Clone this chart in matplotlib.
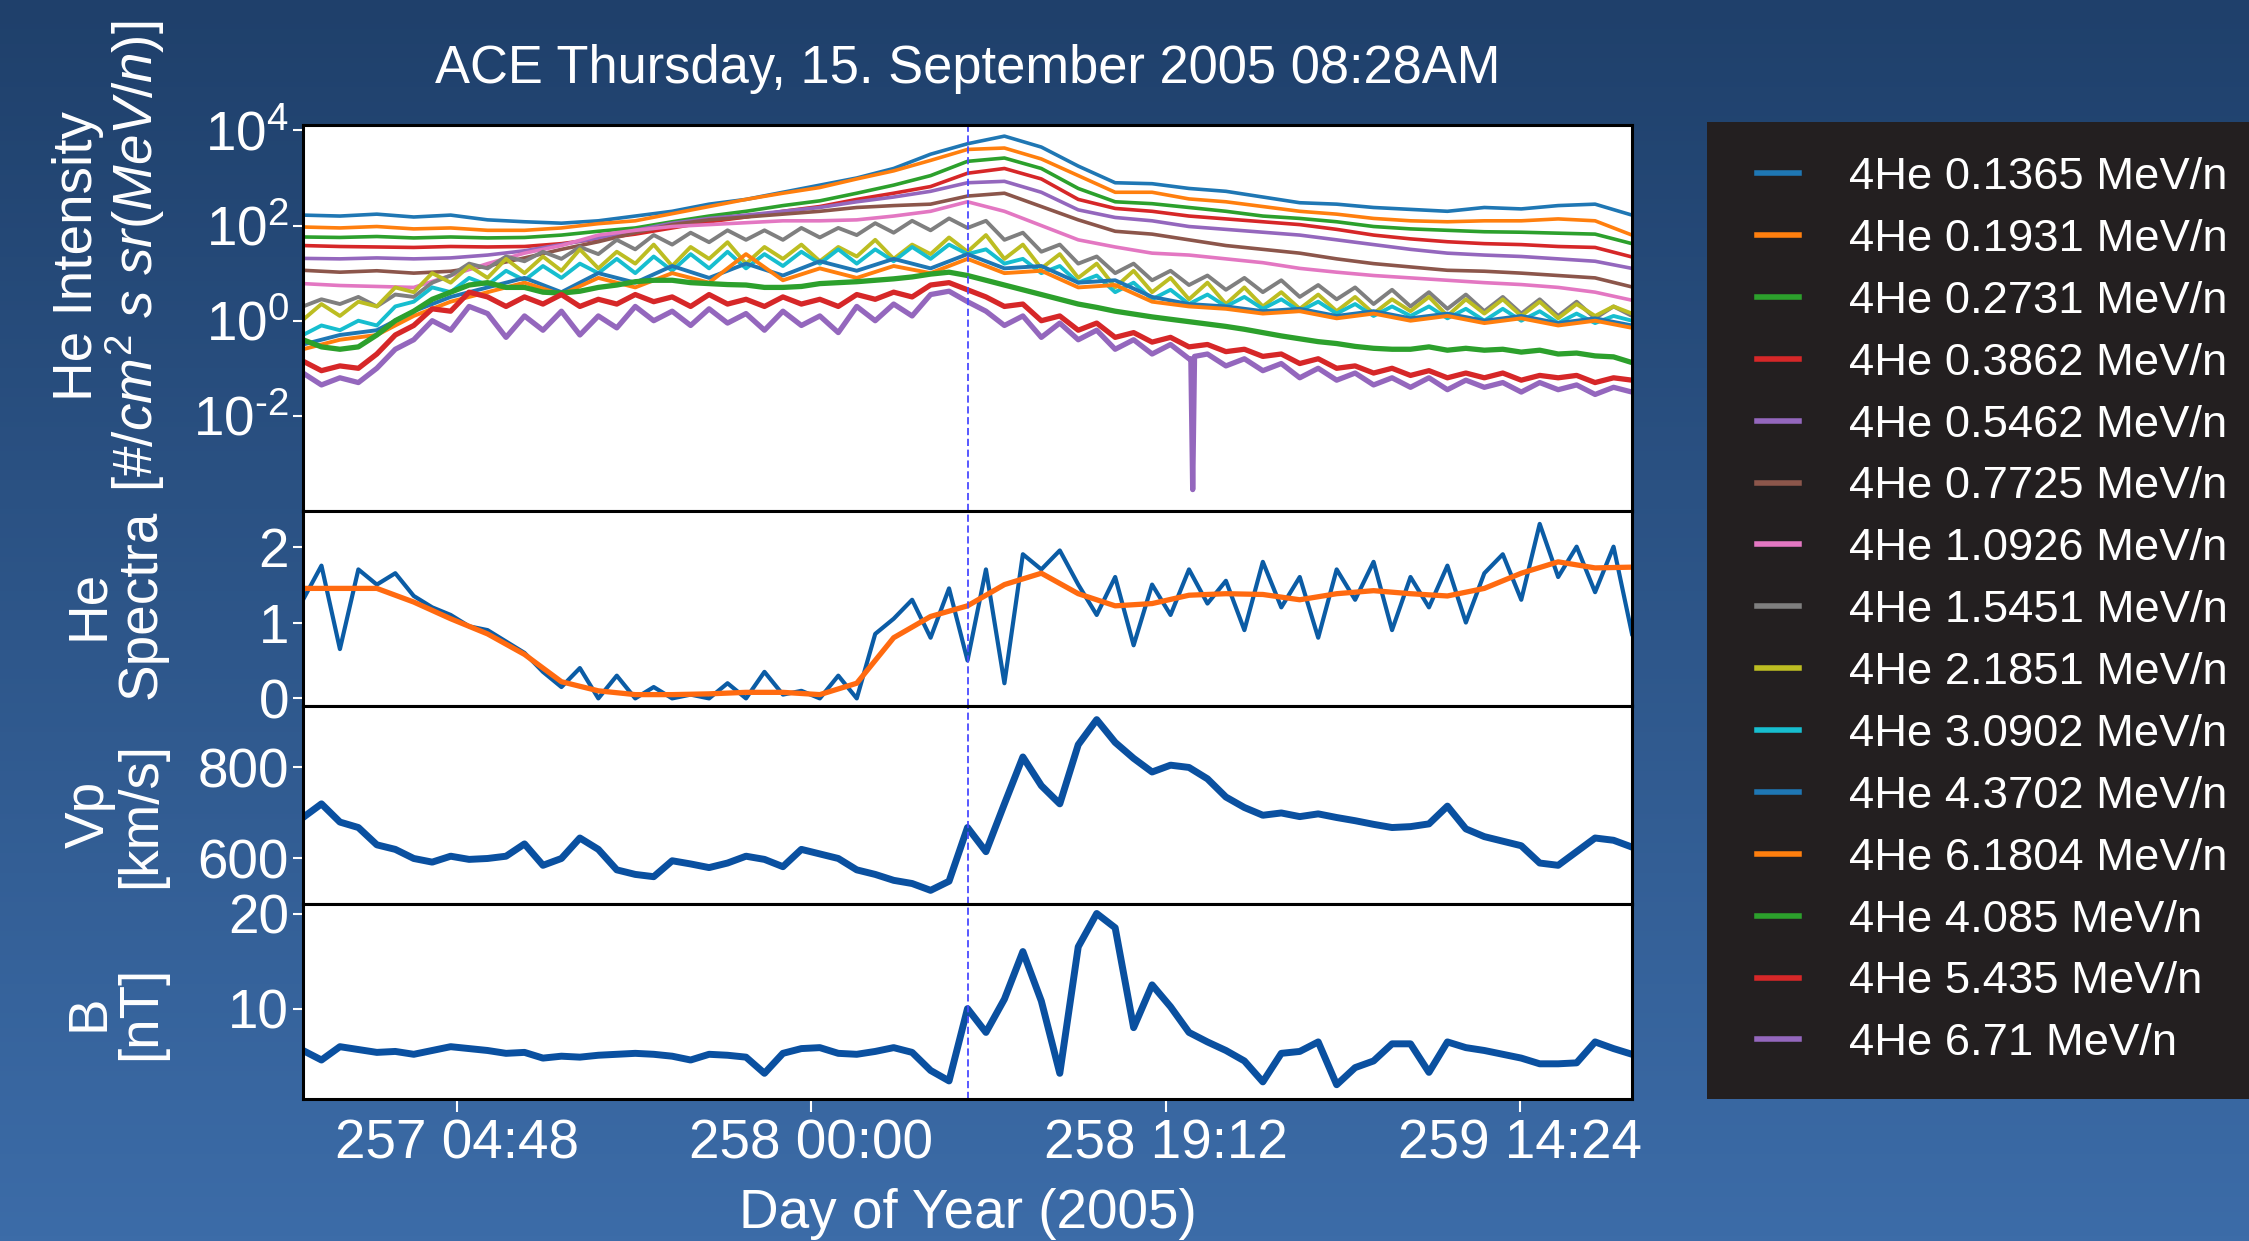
import numpy as np
import matplotlib
matplotlib.use("Agg")
import matplotlib.pyplot as plt
from matplotlib import font_manager as fm
from matplotlib.patches import Rectangle
from matplotlib.ticker import FixedLocator, FuncFormatter, NullLocator

# ---------------- data ----------------
EVENT_DOY = 258 + (8 + 28 / 60) / 24          # 258 08:28
START_DOY = EVENT_DOY - 1.5                    # window start
HOURS_2 = list(range(0, 73, 2))                # 2-hour samples
HOURS_1 = list(range(0, 73))                   # 1-hour samples

labels = ["4He 0.1365 MeV/n", "4He 0.1931 MeV/n", "4He 0.2731 MeV/n",
          "4He 0.3862 MeV/n", "4He 0.5462 MeV/n", "4He 0.7725 MeV/n",
          "4He 1.0926 MeV/n", "4He 1.5451 MeV/n", "4He 2.1851 MeV/n",
          "4He 3.0902 MeV/n", "4He 4.3702 MeV/n", "4He 6.1804 MeV/n",
          "4He 4.085 MeV/n", "4He 5.435 MeV/n", "4He 6.71 MeV/n"]

# log10 intensities, 2-hour samples
he_0136 = [2.22, 2.2, 2.24, 2.18, 2.22, 2.12, 2.08, 2.05, 2.1, 2.2, 2.3, 2.45, 2.55, 2.7, 2.85, 3.0, 3.2, 3.5, 3.72,
           3.88, 3.65, 3.25, 2.9, 2.88, 2.78, 2.72, 2.6, 2.48, 2.45, 2.38, 2.34, 2.3, 2.38, 2.35, 2.42, 2.45, 2.22]
he_0193 = [1.97, 1.95, 1.98, 1.93, 1.95, 1.9, 1.9, 1.95, 2.04, 2.1, 2.25, 2.4, 2.55, 2.68, 2.8, 2.98, 3.15, 3.37, 3.6,
           3.63, 3.4, 3.05, 2.7, 2.7, 2.56, 2.5, 2.4, 2.3, 2.24, 2.15, 2.1, 2.08, 2.1, 2.1, 2.14, 2.1, 1.8]
he_0273 = [1.76, 1.75, 1.77, 1.74, 1.76, 1.74, 1.75, 1.8, 1.88, 1.95, 2.08, 2.2, 2.3, 2.42, 2.52, 2.68, 2.85, 3.05, 3.35,
           3.42, 3.2, 2.78, 2.5, 2.46, 2.38, 2.3, 2.2, 2.15, 2.08, 1.98, 1.93, 1.9, 1.87, 1.86, 1.84, 1.82, 1.62]
he_0386 = [1.58, 1.56, 1.55, 1.54, 1.56, 1.55, 1.56, 1.62, 1.72, 1.82, 1.95, 2.08, 2.18, 2.3, 2.4, 2.55, 2.68, 2.82, 3.1,
           3.2, 2.98, 2.55, 2.36, 2.3, 2.2, 2.14, 2.08, 2.02, 1.92, 1.8, 1.72, 1.66, 1.62, 1.6, 1.56, 1.54, 1.34]
he_0546 = [1.31, 1.3, 1.32, 1.3, 1.32, 1.38, 1.47, 1.6, 1.74, 1.9, 2.05, 2.15, 2.22, 2.3, 2.38, 2.5, 2.6, 2.72, 2.9,
           2.93, 2.7, 2.33, 2.17, 2.1, 1.98, 1.92, 1.86, 1.8, 1.7, 1.6, 1.5, 1.42, 1.38, 1.35, 1.3, 1.25, 1.1]
he_0773 = [1.06, 1.02, 1.05, 1.0, 1.04, 1.15, 1.32, 1.5, 1.66, 1.85, 2.02, 2.12, 2.18, 2.24, 2.3, 2.38, 2.42, 2.45, 2.62,
           2.68, 2.4, 2.12, 1.88, 1.82, 1.7, 1.58, 1.5, 1.42, 1.3, 1.2, 1.13, 1.06, 1.04, 1.0, 0.95, 0.9, 0.71]
he_1093 = [0.78, 0.74, 0.72, 0.7, 0.95, 1.2, 1.42, 1.58, 1.8, 1.9, 1.98, 2.02, 2.06, 2.1, 2.1, 2.12, 2.2, 2.3, 2.5,
           2.3, 2.0, 1.7, 1.55, 1.42, 1.38, 1.3, 1.22, 1.1, 1.02, 0.95, 0.9, 0.85, 0.8, 0.76, 0.7, 0.6, 0.43]
he_4370 = [-0.5, -0.3, -0.2, 0.2, 0.5, 0.7, 0.9, 0.6, 1.0, 0.8, 1.15, 0.9, 1.2, 0.95, 1.25, 1.05, 1.3, 1.1, 1.4,
           1.1, 1.15, 0.8, 0.85, 0.5, 0.35, 0.3, 0.2, 0.25, 0.1, 0.2, 0.05, 0.15, 0.0, 0.1, -0.05, 0.05, -0.1]
he_6180 = [-0.6, -0.4, -0.3, 0.1, 0.4, 0.6, 0.8, 0.55, 0.9, 0.7, 1.0, 0.8, 1.4, 0.85, 1.1, 0.9, 1.15, 1.0, 1.3,
           1.0, 1.05, 0.7, 0.75, 0.4, 0.3, 0.25, 0.15, 0.2, 0.05, 0.15, 0.0, 0.1, -0.05, 0.05, -0.1, 0.0, -0.15]
# log10 intensities, 1-hour samples
he_1545 = [0.3, 0.45, 0.35, 0.5, 0.3, 0.55, 0.5, 0.8, 0.95, 1.2, 1.1, 1.35, 1.25, 1.45, 1.3, 1.55, 1.4, 1.7, 1.5,
           1.8, 1.6, 1.85, 1.65, 1.9, 1.7, 1.9, 1.7, 1.95, 1.75, 1.95, 1.8, 2.05, 1.85, 2.1, 1.9, 2.15, 1.95, 2.1,
           1.7, 1.85, 1.45, 1.6, 1.2, 1.35, 1.0, 1.2, 0.85, 1.05, 0.75, 0.95, 0.65, 0.9, 0.6, 0.85, 0.5, 0.75, 0.45,
           0.7, 0.35, 0.65, 0.3, 0.6, 0.25, 0.55, 0.2, 0.5, 0.15, 0.45, 0.1, 0.4, 0.05, 0.3, 0.1]
he_2185 = [0.02, 0.35, 0.1, 0.4, 0.3, 0.7, 0.6, 1.0, 0.8, 1.15, 0.9, 1.3, 1.0, 1.35, 1.05, 1.5, 1.1, 1.45, 1.2,
           1.6, 1.15, 1.55, 1.3, 1.65, 1.2, 1.55, 1.3, 1.6, 1.25, 1.55, 1.35, 1.7, 1.3, 1.6, 1.4, 1.75, 1.45, 1.8,
           1.3, 1.6, 1.1, 1.4, 0.9, 1.2, 0.7, 1.05, 0.6, 0.9, 0.45, 0.8, 0.35, 0.7, 0.3, 0.6, 0.25, 0.55, 0.2, 0.5,
           0.15, 0.45, 0.2, 0.5, 0.1, 0.45, 0.15, 0.45, 0.1, 0.4, 0.05, 0.35, 0.1, 0.3, 0.15]
he_3090 = [-0.3, -0.1, -0.2, 0.0, -0.1, 0.3, 0.4, 0.7, 0.6, 0.9, 0.75, 1.05, 0.85, 1.15, 0.9, 1.2, 1.0, 1.3, 1.0,
           1.35, 1.05, 1.4, 1.1, 1.45, 1.1, 1.4, 1.15, 1.45, 1.2, 1.5, 1.2, 1.5, 1.25, 1.55, 1.3, 1.6, 1.4, 1.5,
           1.2, 1.3, 1.0, 1.15, 0.8, 0.95, 0.6, 0.8, 0.45, 0.65, 0.35, 0.55, 0.3, 0.5, 0.25, 0.45, 0.2, 0.4, 0.15,
           0.35, 0.1, 0.3, 0.1, 0.3, 0.05, 0.25, 0.0, 0.25, 0.0, 0.2, -0.05, 0.15, -0.05, 0.1, 0.0]
he_4085 = [-0.4, -0.55, -0.6, -0.55, -0.3, 0.0, 0.2, 0.45, 0.6, 0.75, 0.8, 0.7, 0.7, 0.6, 0.58, 0.62, 0.7, 0.75,
           0.82, 0.85, 0.85, 0.8, 0.78, 0.76, 0.75, 0.7, 0.7, 0.72, 0.78, 0.8, 0.82, 0.85, 0.88, 0.92, 0.98, 1.02,
           0.95, 0.85, 0.75, 0.65, 0.55, 0.45, 0.35, 0.28, 0.2, 0.14, 0.08, 0.03, -0.02, -0.07, -0.12, -0.18,
           -0.25, -0.32, -0.38, -0.44, -0.48, -0.54, -0.58, -0.6, -0.6, -0.55, -0.62, -0.58, -0.62, -0.6, -0.66,
           -0.62, -0.7, -0.68, -0.74, -0.76, -0.88]
he_5435 = [-0.85, -1.05, -0.95, -1.0, -0.7, -0.3, -0.1, 0.25, 0.2, 0.6, 0.5, 0.3, 0.5, 0.35, 0.55, 0.3, 0.45, 0.35,
           0.55, 0.4, 0.5, 0.3, 0.55, 0.35, 0.45, 0.3, 0.5, 0.35, 0.45, 0.3, 0.55, 0.45, 0.6, 0.5, 0.75, 0.8,
           0.65, 0.5, 0.3, 0.35, 0.0, 0.1, -0.2, -0.05, -0.35, -0.25, -0.45, -0.35, -0.55, -0.5, -0.65, -0.6,
           -0.75, -0.7, -0.9, -0.8, -1.0, -0.95, -1.1, -1.0, -1.15, -1.05, -1.2, -1.1, -1.2, -1.1, -1.25, -1.15,
           -1.2, -1.15, -1.3, -1.2, -1.25]
he_6710 = [-1.1, -1.35, -1.2, -1.3, -1.0, -0.6, -0.4, 0.0, -0.2, 0.3, 0.15, -0.35, 0.1, -0.2, 0.2, -0.3, 0.1, -0.15,
           0.3, 0.0, 0.2, -0.1, 0.25, -0.05, 0.15, -0.2, 0.2, -0.1, 0.1, -0.25, 0.3, 0.0, 0.35, 0.1, 0.55, 0.62,
           0.4, 0.2, -0.1, 0.1, -0.35, -0.05, -0.4, -0.2, -0.6, -0.4, -0.7, -0.5, -0.8, -0.7, -0.95, -0.8, -1.05,
           -0.9, -1.2, -1.0, -1.25, -1.1, -1.35, -1.2, -1.4, -1.2, -1.45, -1.25, -1.4, -1.3, -1.5, -1.3, -1.45,
           -1.35, -1.55, -1.4, -1.5]
spike_hours = [48.1, 48.2, 48.3]
spike_values = [-0.8, -3.55, -0.75]

# He spectral index
spec_raw = [1.3, 1.75, 0.65, 1.7, 1.5, 1.65, 1.35, 1.2, 1.1, 0.95, 0.9, 0.75, 0.6, 0.35, 0.15, 0.4, 0.0, 0.3,
            0.0, 0.15, 0.0, 0.05, 0.0, 0.2, 0.0, 0.35, 0.05, 0.1, 0.0, 0.3, 0.0, 0.85, 1.05, 1.3, 0.8, 1.45, 0.5,
            1.7, 0.2, 1.9, 1.7, 1.95, 1.5, 1.1, 1.6, 0.7, 1.5, 1.1, 1.7, 1.25, 1.55, 0.9, 1.8, 1.2, 1.6, 0.8, 1.7,
            1.3, 1.8, 0.9, 1.6, 1.2, 1.75, 1.0, 1.65, 1.9, 1.3, 2.3, 1.6, 2.0, 1.4, 2.0, 0.85]
spec_smooth = [1.45, 1.45, 1.45, 1.27, 1.05, 0.85, 0.58, 0.22, 0.1, 0.05, 0.05, 0.06, 0.08, 0.08, 0.05, 0.2, 0.8,
               1.08, 1.22, 1.5, 1.65, 1.38, 1.22, 1.25, 1.36, 1.38, 1.37, 1.3, 1.38, 1.42, 1.38, 1.35, 1.45, 1.65,
               1.8, 1.72, 1.73]

# Solar wind speed [km/s]
vp = [690, 720, 680, 668, 630, 620, 600, 592, 605, 598, 600, 605, 632, 585, 600, 645, 620, 575, 565, 560, 595,
      588, 580, 590, 605, 598, 582, 620, 610, 600, 575, 565, 552, 545, 530, 550, 668, 615, 720, 823, 760, 720,
      850, 905, 855, 820, 790, 805, 800, 775, 735, 712, 695, 700, 692, 698, 690, 683, 675, 668, 670, 676, 715,
      665, 648, 638, 628, 590, 585, 615, 645, 640, 625]

# Magnetic field [nT]
bmag = [5.6, 4.6, 6.0, 5.7, 5.4, 5.5, 5.2, 5.6, 6.0, 5.8, 5.6, 5.3, 5.4, 4.8, 5.0, 4.9, 5.1, 5.2, 5.3, 5.2, 5.0,
        4.6, 5.2, 5.1, 4.9, 3.2, 5.3, 5.8, 5.9, 5.3, 5.2, 5.5, 5.9, 5.4, 3.5, 2.4, 10.0, 7.5, 11.0, 16.0, 10.8,
        3.2, 16.5, 20.0, 18.5, 8.0, 12.5, 10.2, 7.5, 6.5, 5.6, 4.5, 2.3, 5.3, 5.5, 6.5, 2.0, 3.8, 4.5, 6.3, 6.3,
        3.3, 6.5, 5.9, 5.6, 5.2, 4.8, 4.2, 4.2, 4.3, 6.5, 5.8, 5.2]

# (hours, values, line width) per channel, in legend order
p_hours = HOURS_1[:49] + spike_hours + HOURS_1[49:]
p_vals = he_6710[:49] + spike_values + he_6710[49:]
channels = [(HOURS_2, he_0136, 2.6), (HOURS_2, he_0193, 2.6), (HOURS_2, he_0273, 2.6),
            (HOURS_2, he_0386, 2.6), (HOURS_2, he_0546, 2.6), (HOURS_2, he_0773, 2.6),
            (HOURS_2, he_1093, 2.6), (HOURS_1, he_1545, 2.8), (HOURS_1, he_2185, 2.8),
            (HOURS_1, he_3090, 2.8), (HOURS_2, he_4370, 2.8), (HOURS_2, he_6180, 2.8),
            (HOURS_1, he_4085, 3.8), (HOURS_1, he_5435, 3.8), (p_hours, p_vals, 3.8)]
for hrs, vals, _ in channels:
    assert len(hrs) == len(vals), (len(hrs), len(vals))
assert len(spec_smooth) == len(HOURS_2)
for s in [spec_raw, vp, bmag]:
    assert len(s) == len(HOURS_1), len(s)

# ---------------- style ----------------
W, H = 2249, 1241
names = {f.name for f in fm.fontManager.ttflist}
if "Liberation Sans Narrow" in names:
    FONT, K = "Liberation Sans Narrow", 1.0
else:
    FONT, K = "Liberation Sans", 0.86
plt.rcParams["font.family"] = [FONT, "DejaVu Sans"]
plt.rcParams["mathtext.fontset"] = "custom"
plt.rcParams["mathtext.rm"] = FONT
plt.rcParams["mathtext.it"] = FONT + ":italic"
plt.rcParams["mathtext.bf"] = FONT + ":bold"

TICK_FS = 46 * K
LAB_FS = 46 * K
TITLE_FS = 44 * K
LEG_FS = 38 * K

colors = plt.get_cmap("tab10").colors
line_colors = [colors[i % 10] for i in range(15)]

fig = plt.figure(figsize=(W / 100, H / 100), dpi=100)

# background gradient
bg = fig.add_axes([0, 0, 1, 1], zorder=-10)
top = np.array([0x1f, 0x40, 0x6b]) / 255
bot = np.array([0x3c, 0x6c, 0xa8]) / 255
t = np.linspace(0, 1, 256)[:, None, None]
grad = top * (1 - t) + bot * t
bg.imshow(grad, aspect="auto", extent=[0, 1, 0, 1], origin="upper")
bg.set_axis_off()

# legend box
fig.patches.append(Rectangle((1707 / W, 1 - 1099 / H), (W - 1707) / W, (1099 - 122) / H,
                             transform=fig.transFigure, facecolor="#231f20",
                             edgecolor="none", zorder=1))

left = 303 / W
width = 1329 / W
def frame(top_px, bot_px):
    return [left, 1 - bot_px / H, width, (bot_px - top_px) / H]

ax1 = fig.add_axes(frame(125, 511))
ax2 = fig.add_axes(frame(511, 706), sharex=ax1)
ax3 = fig.add_axes(frame(706, 904), sharex=ax1)
ax4 = fig.add_axes(frame(904, 1099), sharex=ax1)
axes = [ax1, ax2, ax3, ax4]

def to_doy(hours):
    return START_DOY + np.asarray(hours, dtype=float) / 24.0

# panel 1
handles = []
for i, (hrs, vals, lw) in enumerate(channels):
    ln, = ax1.plot(to_doy(hrs), 10 ** np.asarray(vals), color=line_colors[i], lw=lw, label=labels[i])
    handles.append(ln)
ax1.set_yscale("log")
ax1.set_ylim(1e-4, 1.3e4)
ax1.yaxis.set_major_locator(FixedLocator([1e-2, 1e0, 1e2, 1e4]))
def log_fmt(v, p):
    e = int(round(np.log10(v)))
    if e < 0:
        return r"$10^{\text{-}%d}$" % (-e)
    return r"$10^{%d}$" % e
ax1.yaxis.set_major_formatter(FuncFormatter(log_fmt))
ax1.yaxis.set_minor_locator(NullLocator())

# panel 2
ax2.plot(to_doy(HOURS_1), spec_raw, color="#0b5ca5", lw=3)
ax2.plot(to_doy(HOURS_2), spec_smooth, color="#ff6a10", lw=3.8)
ax2.set_ylim(-0.1, 2.47)
ax2.set_yticks([0, 1, 2])

# panel 3
ax3.plot(to_doy(HOURS_1), vp, color="#0a50a0", lw=5)
ax3.set_ylim(500, 935)
ax3.set_yticks([600, 800])

# panel 4
ax4.plot(to_doy(HOURS_1), bmag, color="#0a50a0", lw=5)
ax4.set_ylim(0.5, 21)
ax4.set_yticks([10, 20])

for ax in axes:
    ax.set_facecolor("white")
    ax.axvline(EVENT_DOY, color="#4a4aff", lw=1.3, ls=(0, (4, 2)))
    for sp in ax.spines.values():
        sp.set_color("black")
        sp.set_linewidth(2.2)
    ax.tick_params(axis="y", colors="white", labelsize=TICK_FS, length=7, width=1.5, pad=3)
    ax.tick_params(axis="x", bottom=False, labelbottom=False)

ax1.set_xlim(START_DOY, START_DOY + 3.0)
ax4.xaxis.set_major_locator(FixedLocator([257.2, 258.0, 258.8, 259.6]))

def doy_fmt(x, pos):
    d = int(np.floor(x + 1e-9))
    mins = int(round((x - d) * 1440))
    hh, mm = divmod(mins, 60)
    return f"{d} {hh:02d}:{mm:02d}"

ax4.xaxis.set_major_formatter(FuncFormatter(doy_fmt))
ax4.tick_params(axis="x", bottom=True, labelbottom=True, colors="white", labelsize=TICK_FS,
                length=9, width=1.5, pad=5)
ax4.set_xlabel("Day of Year (2005)", color="white", fontsize=LAB_FS, labelpad=13)

ax1.set_title("ACE Thursday, 15. September 2005 08:28AM", color="white", fontsize=TITLE_FS, pad=30)

ylabels = [("He Intensity\n[$\\#/cm^2\\ s\\ sr(MeV/n)$]", 0.66),
           ("He\nSpectra", 0.52),
           ("Vp\n[km/s]", 0.45),
           ("B\n[nT]", 0.44)]
for ax, (txt, yc) in zip(axes, ylabels):
    ax.set_ylabel(txt, color="white", fontsize=LAB_FS, linespacing=1.0)
    ax.yaxis.set_label_coords(-0.102, yc)

leg = fig.legend(handles=handles, labels=labels, loc="upper left",
                 bbox_to_anchor=(1757 / W, 1 - 157 / H), frameon=False,
                 fontsize=LEG_FS, handlelength=0.93, handletextpad=1.1,
                 labelspacing=0.46, borderpad=0, borderaxespad=0)
leg.set_zorder(5)
for t_ in leg.get_texts():
    t_.set_color("white")
for l_ in leg.get_lines():
    l_.set_linewidth(4)

fig.savefig("out.png", dpi=100)
